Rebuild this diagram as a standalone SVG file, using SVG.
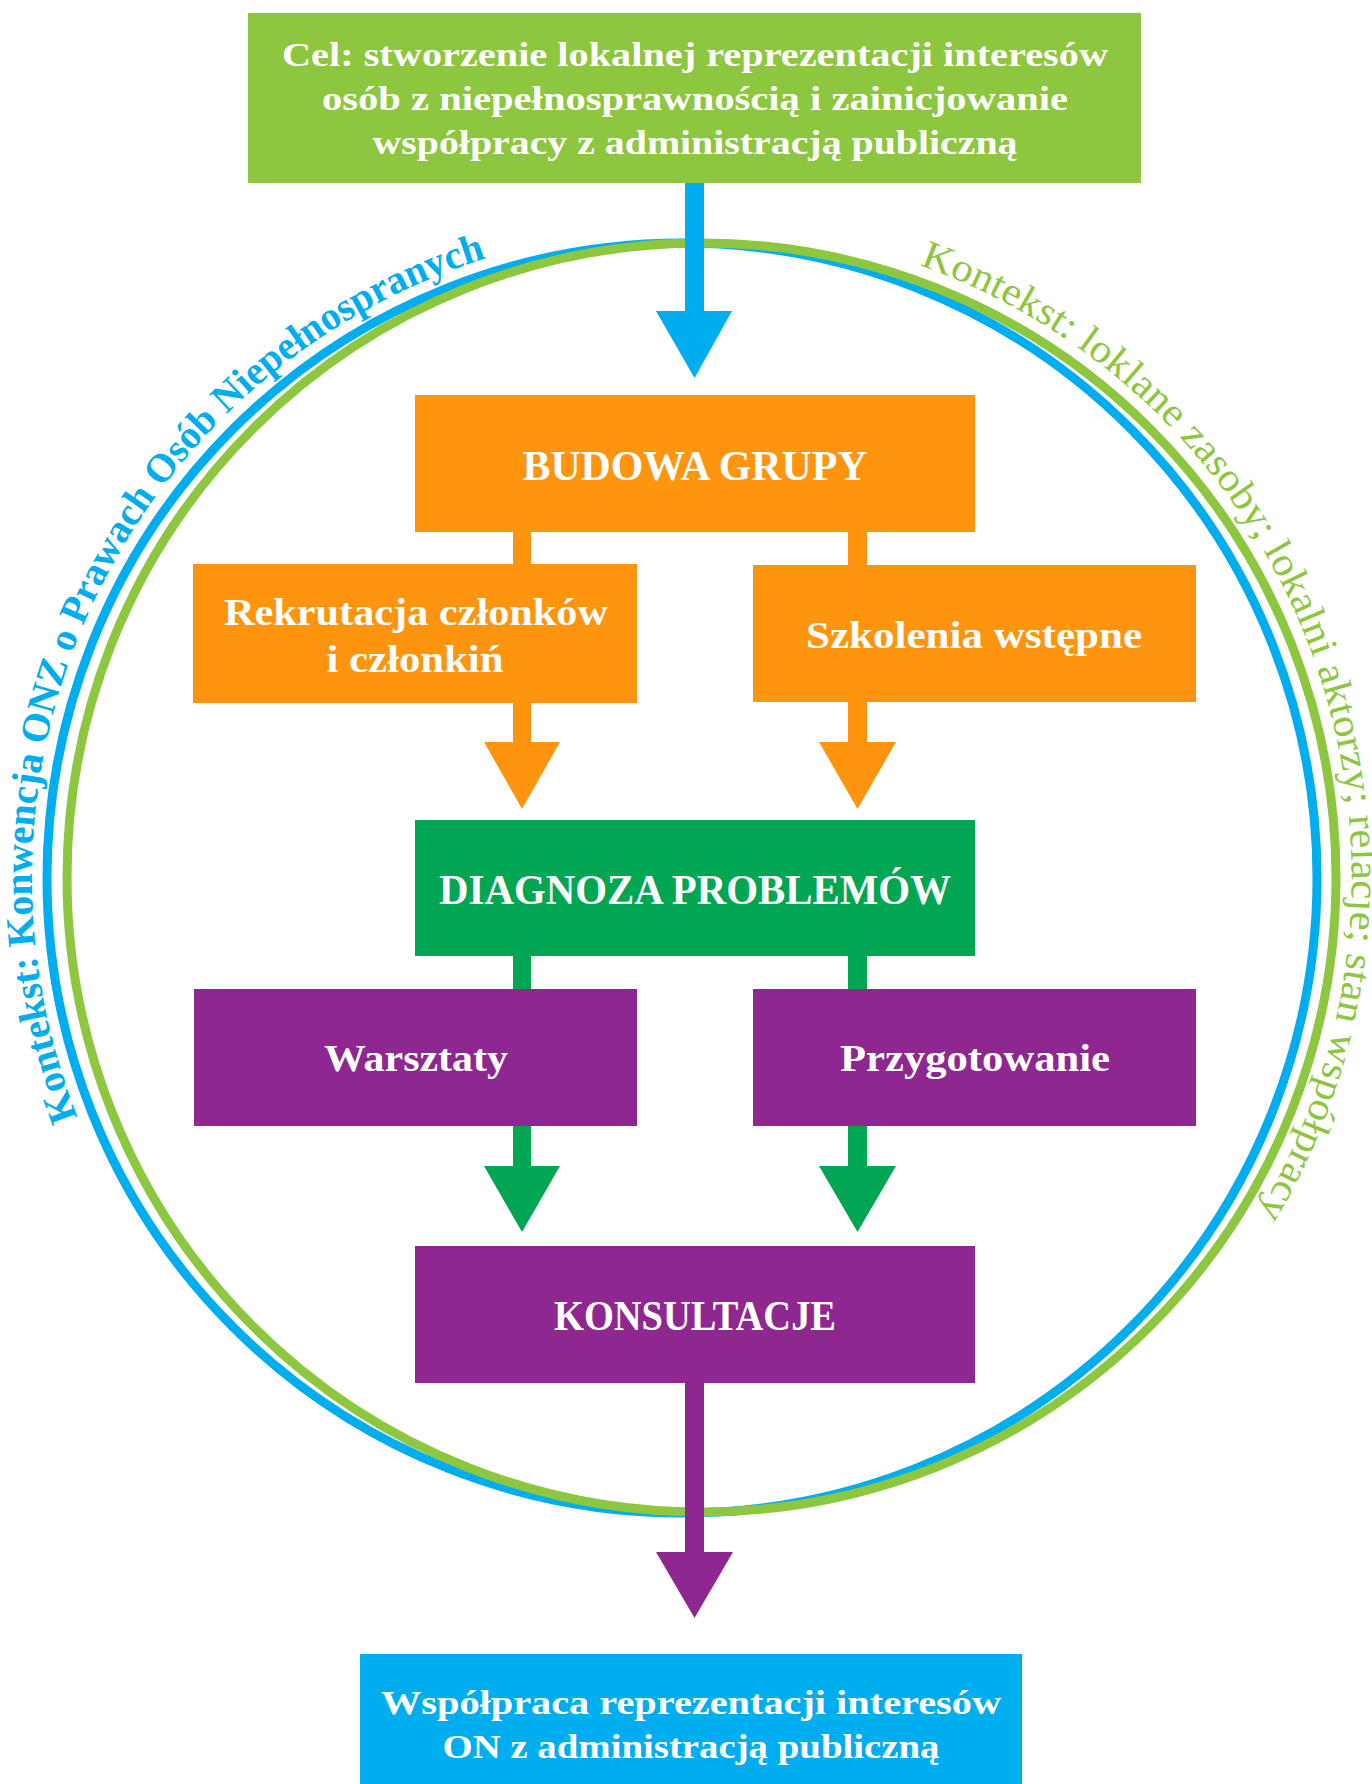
<svg xmlns="http://www.w3.org/2000/svg" width="1372" height="1784" viewBox="0 0 1372 1784">
  <style>
    .t { font-family: "Liberation Serif", "Times New Roman", serif; font-weight: bold; fill: #ffffff; text-anchor: middle; }
    .big { font-size: 42px; }
    .mid { font-size: 37px; }
    .sm { font-size: 34px; }
    .ring { fill: none; stroke-width: 9; }
    .ctx { font-family: "Liberation Serif", "Times New Roman", serif; font-size: 40px; }
  </style>
  <defs>
    <path id="arcL" d="M 77.6 1117.3 A 650 650 0 0 1 524.8 247.3"/>
    <path id="arcR" d="M 919.6 265.1 A 650 650 0 0 1 1234.0 1250.3"/>
  </defs>
  <rect width="1372" height="1784" fill="#ffffff"/>

  <g id="context">
    <circle class="ring" cx="682" cy="878" r="635" stroke="#00AEEF"/>
    <circle class="ring" cx="701.5" cy="877.5" r="634.5" stroke="#8DC63F"/>
    <text class="ctx" fill="#00AEEF" font-weight="bold"><textPath href="#arcL" textLength="1067" lengthAdjust="spacingAndGlyphs">Kontekst: Konwencja ONZ o Prawach Osób Niepełnospranych</textPath></text>
    <text class="ctx" fill="#8DC63F"><textPath href="#arcR" textLength="1151" lengthAdjust="spacingAndGlyphs">Kontekst: loklane zasoby; lokalni aktorzy; relacje; stan współpracy</textPath></text>
  </g>

  <g id="connectors">
    <rect x="685" y="183" width="19" height="130" fill="#00AEEF"/>
    <polygon points="656,311 732,311 694.5,378" fill="#00AEEF"/>
    <rect x="513" y="530" width="18" height="214" fill="#FF940E"/>
    <polygon points="484,742 560,742 522,809" fill="#FF940E"/>
    <rect x="848" y="530" width="19" height="214" fill="#FF940E"/>
    <polygon points="819,742 896,742 857.5,809" fill="#FF940E"/>
    <rect x="513" y="954" width="18" height="214" fill="#00A651"/>
    <polygon points="484,1166 560,1166 522,1232" fill="#00A651"/>
    <rect x="848" y="954" width="19" height="214" fill="#00A651"/>
    <polygon points="819,1166 896,1166 857.5,1232" fill="#00A651"/>
    <rect x="685" y="1381" width="19" height="173" fill="#8E278F"/>
    <polygon points="656,1552 733,1552 694.5,1618" fill="#8E278F"/>
  </g>

  <g id="cel">
    <rect x="248" y="13" width="893" height="170" fill="#8DC63F"/>
    <text class="t sm" x="695" y="66" textLength="826" lengthAdjust="spacingAndGlyphs">Cel: stworzenie lokalnej reprezentacji interesów</text>
    <text class="t sm" x="695" y="110" textLength="746" lengthAdjust="spacingAndGlyphs">osób z niepełnosprawnością i zainicjowanie</text>
    <text class="t sm" x="695" y="154" textLength="645" lengthAdjust="spacingAndGlyphs">współpracy z administracją publiczną</text>
  </g>

  <g id="budowa">
    <rect x="415" y="395" width="560" height="137" fill="#FF940E"/>
    <text class="t big" x="695" y="480" textLength="345" lengthAdjust="spacingAndGlyphs">BUDOWA GRUPY</text>
  </g>

  <g id="rekrutacja">
    <rect x="193" y="564" width="444" height="139" fill="#FF940E"/>
    <text class="t mid" x="416" y="625" textLength="384" lengthAdjust="spacingAndGlyphs">Rekrutacja członków</text>
    <text class="t mid" x="415" y="672" textLength="177" lengthAdjust="spacingAndGlyphs">i członkiń</text>
  </g>

  <g id="szkolenia">
    <rect x="753" y="565" width="443" height="137" fill="#FF940E"/>
    <text class="t mid" x="974" y="648" textLength="336" lengthAdjust="spacingAndGlyphs">Szkolenia wstępne</text>
  </g>

  <g id="diagnoza">
    <rect x="415" y="820" width="560" height="136" fill="#00A651"/>
    <text class="t big" x="695" y="904" textLength="512" lengthAdjust="spacingAndGlyphs">DIAGNOZA PROBLEMÓW</text>
  </g>

  <g id="warsztaty">
    <rect x="194" y="989" width="443" height="137" fill="#8E278F"/>
    <text class="t mid" x="416" y="1071" textLength="184" lengthAdjust="spacingAndGlyphs">Warsztaty</text>
  </g>

  <g id="przygotowanie">
    <rect x="753" y="989" width="443" height="137" fill="#8E278F"/>
    <text class="t mid" x="975" y="1071" textLength="270" lengthAdjust="spacingAndGlyphs">Przygotowanie</text>
  </g>

  <g id="konsultacje">
    <rect x="415" y="1246" width="560" height="137" fill="#8E278F"/>
    <text class="t big" x="695" y="1330" textLength="282" lengthAdjust="spacingAndGlyphs">KONSULTACJE</text>
  </g>

  <g id="wspolpraca">
    <rect x="360" y="1654" width="662" height="130" fill="#00AEEF"/>
    <text class="t sm" x="691" y="1714" textLength="620" lengthAdjust="spacingAndGlyphs">Współpraca reprezentacji interesów</text>
    <text class="t sm" x="691" y="1758" textLength="497" lengthAdjust="spacingAndGlyphs">ON z administracją publiczną</text>
  </g>
</svg>
